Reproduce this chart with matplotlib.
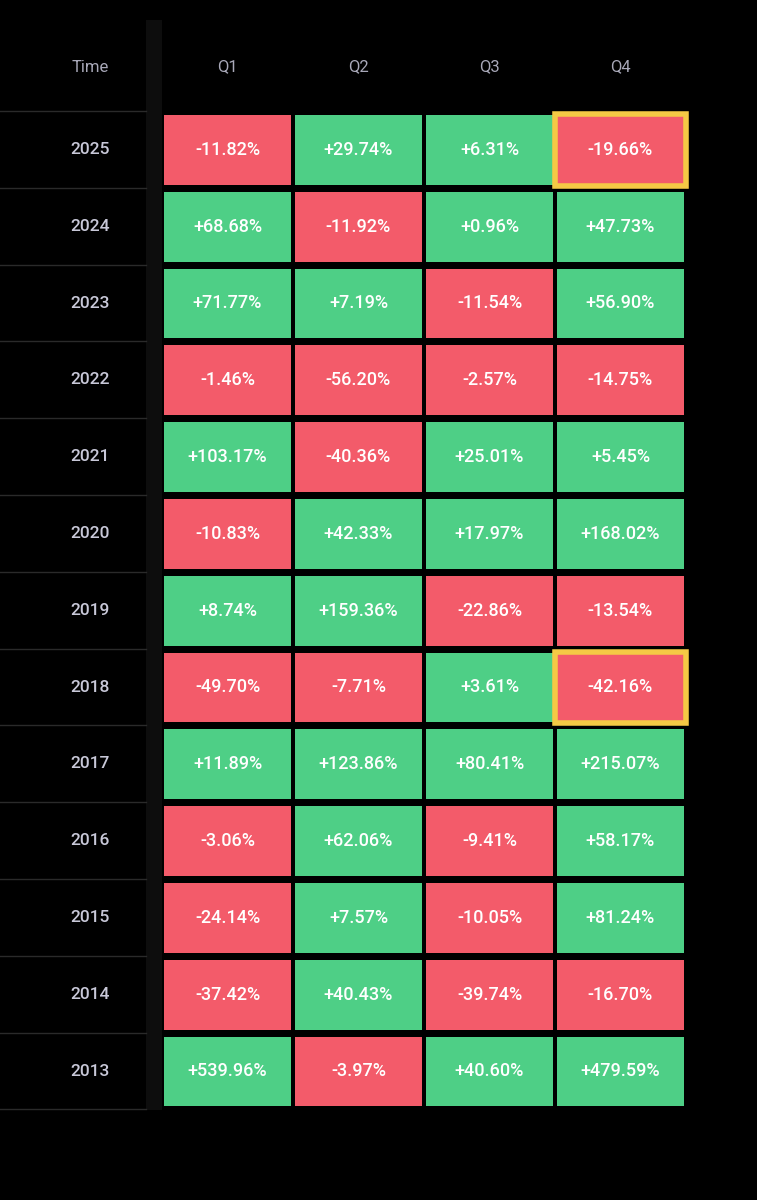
import matplotlib
matplotlib.use("Agg")
import matplotlib.pyplot as plt
from matplotlib.patches import Rectangle

years = ["2025","2024","2023","2022","2021","2020","2019","2018","2017","2016","2015","2014","2013"]
quarters = ["Q1","Q2","Q3","Q4"]
q1 = [-11.82, 68.68, 71.77, -1.46, 103.17, -10.83, 8.74, -49.70, 11.89, -3.06, -24.14, -37.42, 539.96]
q2 = [29.74, -11.92, 7.19, -56.20, -40.36, 42.33, 159.36, -7.71, 123.86, 62.06, 7.57, 40.43, -3.97]
q3 = [6.31, 0.96, -11.54, -2.57, 25.01, 17.97, -22.86, 3.61, 80.41, -9.41, -10.05, -39.74, 40.60]
q4 = [-19.66, 47.73, 56.90, -14.75, 5.45, 168.02, -13.54, -42.16, 215.07, 58.17, 81.24, -16.70, 479.59]
highlight = [("2025","Q4"), ("2018","Q4")]

RED = "#F35B6A"; GREEN = "#4ECF86"; YELLOW = "#F5C945"
fig = plt.figure(figsize=(7.57, 12), dpi=100, facecolor="black")
ax = fig.add_axes([0, 0, 1, 1]); ax.set_xlim(0, 757); ax.set_ylim(1200, 0); ax.axis("off")
ax.set_facecolor("black")

row0, rh = 112, 76.8
col_x = [164, 295, 426, 557]; cw = 127
font = "Roboto"
# left column shade
ax.add_patch(Rectangle((146, 20), 16, 1090, color="#0d0d0d", lw=0))
ax.text(90, 67, "Time", color="#a8a8b8", fontsize=12, ha="center", va="center", family=font)
for j, q in enumerate(quarters):
    ax.text(col_x[j] + cw/2, 67, q, color="#a8a8b8", fontsize=12, ha="center", va="center", family=font)
ax.plot([0, 146], [row0-1, row0-1], color="#2a2a2a", lw=1)
cols = [q1, q2, q3, q4]
for i, y in enumerate(years):
    top = row0 + i*rh
    ax.plot([0, 146], [top+rh-1, top+rh-1], color="#2a2a2a", lw=1)
    ax.text(90, top + rh/2 - 1, y, color="#c8c8d8", fontsize=12.5, ha="center", va="center", family=font, weight="medium")
    for j in range(4):
        v = cols[j][i]
        c = GREEN if v >= 0 else RED
        x0 = col_x[j]; y0 = top + 3; h = rh - 7
        if (y, quarters[j]) in highlight:
            ax.add_patch(Rectangle((x0-2, y0-1), cw+4, h+2, facecolor=c, edgecolor=YELLOW, lw=4))
        else:
            ax.add_patch(Rectangle((x0, y0), cw, h, facecolor=c, lw=0))
        ax.text(x0 + cw/2, y0 + h/2, f"{v:+.2f}%", color="white", fontsize=13, ha="center", va="center", family=font, weight="medium")
fig.savefig("out.png", dpi=100, facecolor="black")
